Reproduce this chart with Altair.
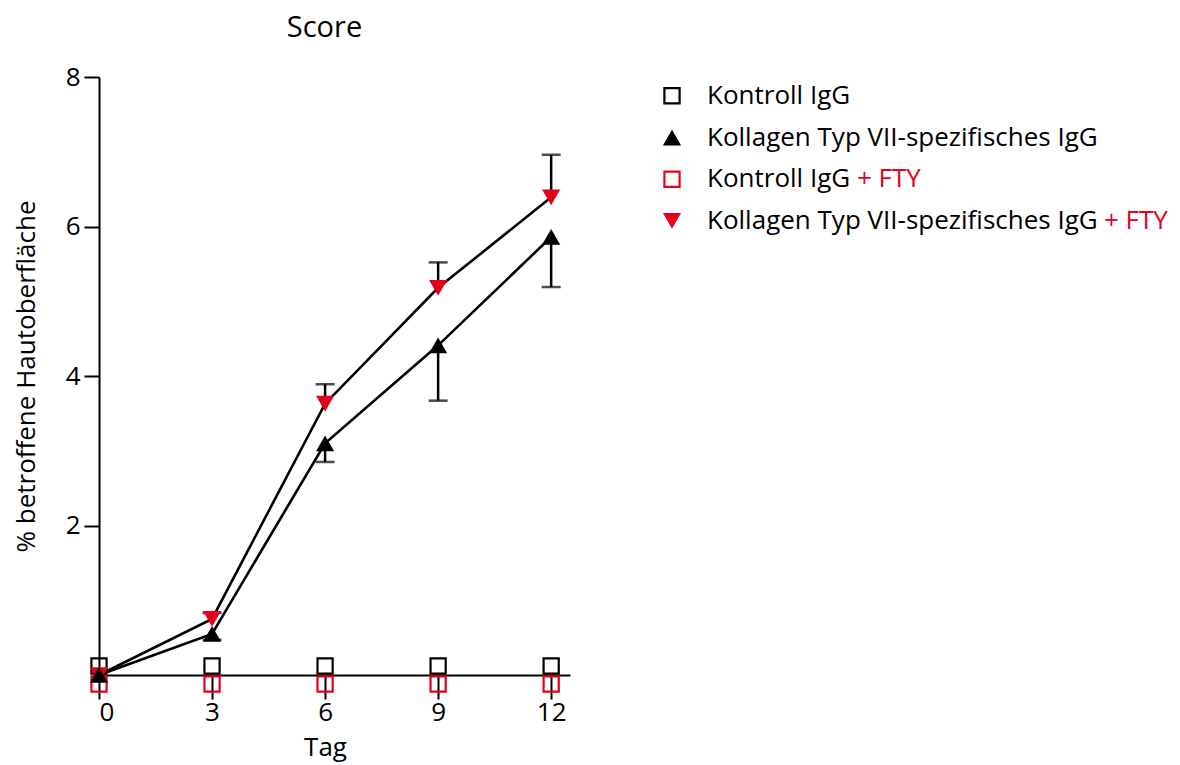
import altair as alt
import pandas as pd

# ---- data ----
days = [0, 3, 6, 9, 12]
kontroll = [0, 0, 0, 0, 0]
kontroll_fty = [0, 0, 0, 0, 0]
kollagen = [0, 0.55, 3.10, 4.41, 5.86]
kollagen_err = [0, 0.08, 0.25, 0.74, 0.67]       # drawn downwards
kollagen_fty = [0, 0.75, 3.63, 5.18, 6.39]
kollagen_fty_err = [0, 0.08, 0.26, 0.34, 0.57]   # drawn upwards

series_names = [
    "Kontroll IgG",
    "Kollagen Typ VII-spezifisches IgG",
    "Kontroll IgG + FTY",
    "Kollagen Typ VII-spezifisches IgG + FTY",
]
legend_prefix = ["Kontroll IgG", "Kollagen Typ VII-spezifisches IgG",
                 "Kontroll IgG", "Kollagen Typ VII-spezifisches IgG"]
legend_suffix = ["", "", "+ FTY", "+ FTY"]
shapes = ["square", "triangle-up", "square", "triangle-down"]
RED = "#e2001a"
colors = ["black", "black", RED, RED]

FONT = "Open Sans"
LEG_FS = 26

rows = []
for name, vals, errs, direction in [
    (series_names[0], kontroll, [0] * 5, 0),
    (series_names[1], kollagen, kollagen_err, -1),
    (series_names[2], kontroll_fty, [0] * 5, 0),
    (series_names[3], kollagen_fty, kollagen_fty_err, 1),
]:
    for d, v, e in zip(days, vals, errs):
        end = v + direction * e
        rows.append(dict(series=name, day=d, value=v, err=e,
                         lo=min(v, end), hi=max(v, end), cap=end))
df = pd.DataFrame(rows)

shape_scale = alt.Scale(domain=series_names, range=shapes)
color_scale = alt.Scale(domain=series_names, range=colors)

x = alt.X("day:Q", scale=alt.Scale(domain=[0, 12.5], nice=False, zero=False),
          axis=alt.Axis(values=days, title="Tag", tickSize=24, labelPadding=0,
                        titlePadding=9, titleX=226, format="d"))
y = alt.Y("value:Q", scale=alt.Scale(domain=[0, 8], nice=False),
          axis=alt.Axis(values=[2, 4, 6, 8], title="% betroffene Hautoberfläche",
                        tickSize=15, labelPadding=4, titlePadding=26, format="d"))

trend = df["series"].isin([series_names[1], series_names[3]])

lines = alt.Chart(df[trend]).mark_line(color="black", strokeWidth=2.6).encode(
    x=x, y=y, detail="series:N")

err_df = df[df["err"] > 0]
err_rules = alt.Chart(err_df).mark_rule(color="black", strokeWidth=2.5).encode(
    x="day:Q", y="lo:Q", y2="hi:Q")
err_caps = alt.Chart(err_df).mark_tick(color="black", orient="horizontal", size=19,
                                       thickness=2.5).encode(x="day:Q", y="cap:Q")

ctrl_black = alt.Chart(df[df["series"] == series_names[0]]).mark_point(
    shape="square", size=230, strokeWidth=2.2, filled=False, color="black",
    yOffset=-9, clip=False, opacity=1).encode(x="day:Q", y="value:Q")
ctrl_red = alt.Chart(df[df["series"] == series_names[2]]).mark_point(
    shape="square", size=230, strokeWidth=2.2, filled=False, color=RED,
    yOffset=9, clip=False, opacity=1).encode(x="day:Q", y="value:Q")

tri_red = alt.Chart(df[df["series"] == series_names[3]]).mark_point(
    size=330, filled=True, opacity=1, clip=False).encode(
    x="day:Q", y="value:Q",
    shape=alt.Shape("series:N", scale=shape_scale, legend=None),
    color=alt.Color("series:N", scale=color_scale, legend=None))
tri_black = alt.Chart(df[df["series"] == series_names[1]]).mark_point(
    size=330, filled=True, opacity=1, clip=False).encode(
    x="day:Q", y="value:Q",
    shape=alt.Shape("series:N", scale=shape_scale, legend=None),
    color=alt.Color("series:N", scale=color_scale, legend=None))

main = alt.layer(lines, err_rules, err_caps, ctrl_black, ctrl_red, tri_red, tri_black).properties(
    width=471, height=598,
    title=alt.TitleParams("Score", fontSize=29, font=FONT, fontWeight="normal",
                          color="black", offset=21, dx=-10),
)

# ---- custom legend (two-coloured labels) ----
leg = pd.DataFrame({
    "row": list(range(4)),
    "series": series_names,
    "prefix": legend_prefix,
    "suffix": legend_suffix,
})
ly = alt.Y("row:Q", scale=alt.Scale(domain=[-0.45, 13.88], reverse=True, nice=False, zero=False),
           axis=None)
lbase = alt.Chart(leg)
leg_sq = lbase.transform_filter("datum.row % 2 == 0").mark_point(
    size=230, strokeWidth=2.2, filled=False, opacity=1).encode(
    x=alt.value(9), y=ly,
    shape=alt.Shape("series:N", scale=shape_scale, legend=None),
    color=alt.Color("series:N", scale=color_scale, legend=None))
leg_tri = lbase.transform_filter("datum.row % 2 == 1").mark_point(
    size=330, filled=True, opacity=1).encode(
    x=alt.value(9), y=ly,
    shape=alt.Shape("series:N", scale=shape_scale, legend=None),
    color=alt.Color("series:N", scale=color_scale, legend=None))
txt_kw = dict(align="left", baseline="middle", fontSize=LEG_FS, font=FONT)
leg_prefix = lbase.mark_text(color="black", dx=35, **txt_kw).encode(
    x=alt.value(9), y=ly, text="prefix:N")
# red "+ FTY" suffix placed right after the black label text
leg_suffix_short = lbase.transform_filter("datum.row == 2").mark_text(
    color=RED, dx=35 + 143 + 7, **txt_kw).encode(x=alt.value(9), y=ly, text="suffix:N")
leg_suffix_long = lbase.transform_filter("datum.row == 3").mark_text(
    color=RED, dx=35 + 390 + 7, **txt_kw).encode(x=alt.value(9), y=ly, text="suffix:N")

legend = alt.layer(leg_sq, leg_tri, leg_prefix, leg_suffix_short, leg_suffix_long).properties(
    width=300, height=598)

chart = alt.hconcat(main, legend, spacing=90).properties(
    padding={"left": 5, "top": 6, "right": 0, "bottom": 4}
).configure(font=FONT).configure_view(
    stroke=None).configure_axis(
    domainColor="black", domainWidth=2, tickColor="black", tickWidth=2,
    labelColor="black", labelFontSize=26, labelFont=FONT,
    titleColor="black", titleFontSize=26, titleFont=FONT, titleFontWeight="normal",
    grid=False,
)

chart.save("out.html", embed_options={"renderer": "svg", "actions": False})
